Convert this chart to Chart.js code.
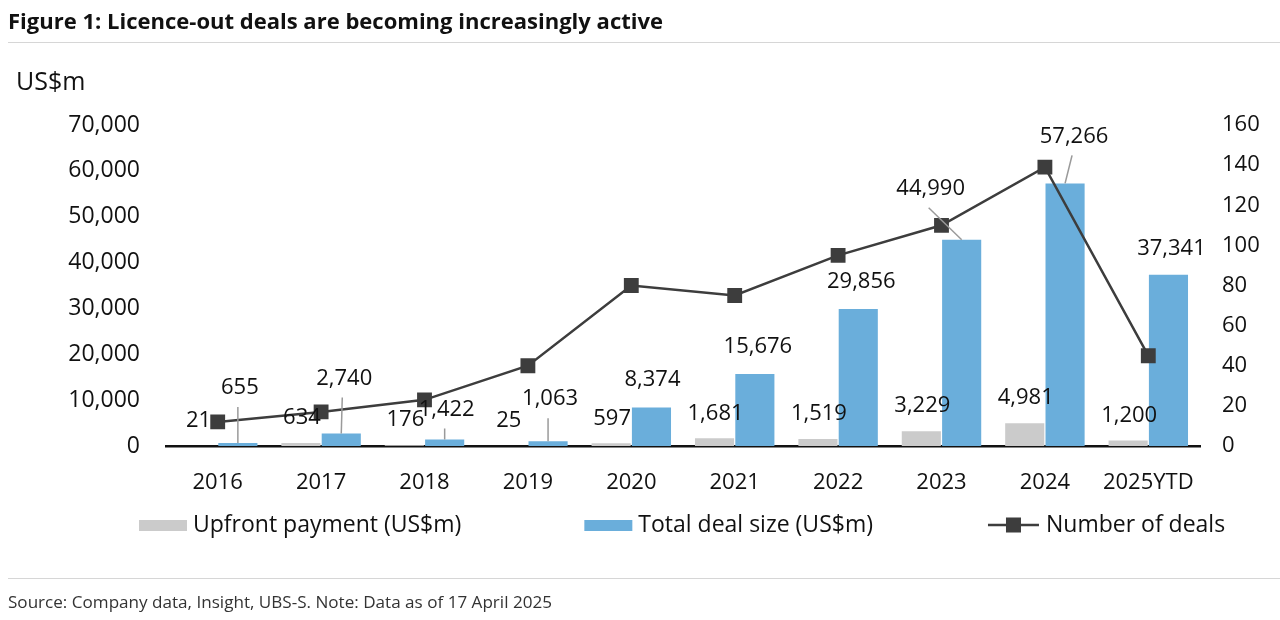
<!DOCTYPE html>
<html>
<head>
<meta charset="utf-8">
<script src="https://cdn.jsdelivr.net/npm/chart.js@4.4.1/dist/chart.umd.min.js"></script>
<style>
html,body{margin:0;padding:0;background:#fff;width:1280px;height:620px;overflow:hidden;font-family:'Open Sans',sans-serif;}
#wrap{position:relative;width:1280px;height:620px;}
#chart{position:absolute;left:0;top:0;}
.txt{position:absolute;white-space:nowrap;transform-origin:0 50%;color:#111;}
#title{left:8px;top:4px;font-weight:700;font-size:22px;line-height:32px;}
#unit{left:16px;top:63px;font-size:25px;line-height:34px;}
#source{left:8px;top:590px;font-size:16px;line-height:24px;color:#333;}
.rule{position:absolute;left:8px;width:1272px;height:0;border-top:1.5px solid #d6d6d6;}
</style>
</head>
<body>
<div id="wrap">
  <canvas id="chart" width="1280" height="620"></canvas>
  <div class="txt" id="title" data-w="655">Figure 1: Licence-out deals are becoming increasingly active</div>
  <div class="rule" style="top:42px"></div>
  <div class="txt" id="unit">US$m</div>
  <div class="rule" style="top:578px"></div>
  <div class="txt" id="source" data-w="544">Source: Company data, Insight, UBS-S. Note: Data as of 17 April 2025</div>
</div>
<script>
// ---- data ----
const categories = ['2016','2017','2018','2019','2020','2021','2022','2023','2024','2025YTD'];
const upfrontPayment = [21, 634, 176, 25, 597, 1681, 1519, 3229, 4981, 1200];
const totalDealSize = [655, 2740, 1422, 1063, 8374, 15676, 29856, 44990, 57266, 37341];
const numberOfDeals = [12, 17, 23, 40, 80, 75, 95, 110, 139, 45];
const leftAxis = {min: 0, max: 70000, step: 10000};
const rightAxis = {min: 0, max: 160, step: 20};
const seriesNames = ['Upfront payment (US$m)', 'Total deal size (US$m)', 'Number of deals'];

// ---- label placement (style only) ----
const totalLabelStyle = [
  {dx: 2, dy: -55, leader: true},
  {dx: 3, dy: -55, leader: true},
  {dx: 2, dy: -30, leader: true},
  {dx: 2, dy: -42, leader: true},
  {dx: 1, dy: -28},
  {dx: 3, dy: -27},
  {dx: 3, dy: -27},
  {dx: -31, dy: -51, leader: true},
  {dx: 9, dy: -47, leader: true},
  {dx: 3, dy: -26}
];

const FONT = "'Open Sans', sans-serif";
const GREY = '#cbcbcb', BLUE = '#6aaedb', LINE = '#3d3d3d', TEXT = '#111111';
const fmt = v => Number(v).toLocaleString('en-US');

const labelPlugin = {
  id: 'valueLabels',
  afterDatasetsDraw(chart) {
    const ctx = chart.ctx;
    ctx.save();
    ctx.font = '22px ' + FONT;
    ctx.fillStyle = TEXT;
    ctx.textAlign = 'center';
    ctx.textBaseline = 'middle';
    const mg = chart.getDatasetMeta(0), mb = chart.getDatasetMeta(1);
    mg.data.forEach((bar, i) => {
      ctx.fillText(fmt(upfrontPayment[i]), bar.x + 1, bar.y - 25);
    });
    mb.data.forEach((bar, i) => {
      const s = totalLabelStyle[i];
      const lx = bar.x + s.dx, ly = bar.y + s.dy;
      if (s.leader) {
        ctx.save();
        ctx.strokeStyle = '#9a9a9a';
        ctx.lineWidth = 1.5;
        ctx.beginPath();
        ctx.moveTo(lx - 2, ly + 19);
        ctx.lineTo(bar.x, bar.y);
        ctx.stroke();
        ctx.restore();
      }
      ctx.fillText(fmt(totalDealSize[i]), lx, ly);
    });
    ctx.restore();
  }
};

const legendPlugin = {
  id: 'bottomLegend',
  afterDraw(chart) {
    const ctx = chart.ctx, ca = chart.chartArea;
    ctx.save();
    ctx.font = '23px ' + FONT;
    ctx.textBaseline = 'middle';
    ctx.textAlign = 'left';
    const y = ca.bottom + 79;
    const boxW = 48, gap = 6, gaps = [123, 115];
    const widths = seriesNames.map((n, i) => boxW + gap + (i === 2 ? 4 : 0) + ctx.measureText(n).width);
    let x = ca.left - 27;
    seriesNames.forEach((name, i) => {
      if (i < 2) {
        ctx.fillStyle = i === 0 ? GREY : BLUE;
        ctx.fillRect(x, y - 5, boxW, 11);
      } else {
        ctx.strokeStyle = LINE; ctx.lineWidth = 2.5;
        ctx.beginPath(); ctx.moveTo(x, y); ctx.lineTo(x + boxW + 3, y); ctx.stroke();
        ctx.fillStyle = LINE;
        ctx.fillRect(x + boxW / 2 - 6, y - 7.5, 15, 15);
      }
      ctx.fillStyle = TEXT;
      ctx.fillText(name, x + boxW + gap + (i === 2 ? 4 : 0), y);
      x += widths[i] + (gaps[i] || 0);
    });
    ctx.restore();
  }
};

Chart.defaults.font.family = FONT;
Chart.defaults.color = TEXT;

new Chart(document.getElementById('chart'), {
  type: 'bar',
  data: {
    labels: categories,
    datasets: [
      {label: seriesNames[0], data: upfrontPayment, backgroundColor: GREY, yAxisID: 'y', order: 1,
       categoryPercentage: 0.78, barPercentage: 0.97},
      {label: seriesNames[1], data: totalDealSize, backgroundColor: BLUE, yAxisID: 'y', order: 2,
       categoryPercentage: 0.78, barPercentage: 0.97},
      {label: seriesNames[2], data: numberOfDeals, type: 'line', yAxisID: 'y1', order: 0,
       borderColor: LINE, borderWidth: 2.5, pointStyle: 'rect', pointRadius: 10.5,
       pointBackgroundColor: LINE, pointBorderColor: LINE, pointBorderWidth: 0, tension: 0}
    ]
  },
  options: {
    responsive: false,
    animation: false,
    events: [],
    layout: {padding: {top: 125, left: 0, right: 0, bottom: 0}},
    plugins: {legend: {display: false}, tooltip: {enabled: false}, title: {display: false}},
    scales: {
      x: {
        grid: {display: false, drawTicks: false},
        border: {display: true, color: '#111', width: 2.5},
        ticks: {padding: 24, font: {size: 22}, color: TEXT, maxRotation: 0, autoSkip: false},
        afterFit: s => { s.height = 174; }
      },
      y: {
        position: 'left', min: leftAxis.min, max: leftAxis.max,
        grid: {display: false, drawTicks: false}, border: {display: false},
        ticks: {stepSize: leftAxis.step, padding: 26, font: {size: 23}, color: TEXT, callback: v => fmt(v)},
        afterFit: s => { s.width = 166; }
      },
      y1: {
        position: 'right', min: rightAxis.min, max: rightAxis.max,
        grid: {display: false, drawTicks: false}, border: {display: false},
        ticks: {stepSize: rightAxis.step, padding: 22, font: {size: 22}, color: TEXT},
        afterFit: s => { s.width = 80; }
      }
    }
  },
  plugins: [labelPlugin, legendPlugin]
});

function fitText() {
  document.querySelectorAll('[data-w]').forEach(el => {
    el.style.transform = 'none';
    const w = el.getBoundingClientRect().width;
    const t = parseFloat(el.dataset.w);
    if (w > 0) el.style.transform = 'scaleX(' + (t / w).toFixed(4) + ')';
  });
}
fitText();
if (document.fonts && document.fonts.ready) document.fonts.ready.then(fitText);
</script>
</body>
</html>
